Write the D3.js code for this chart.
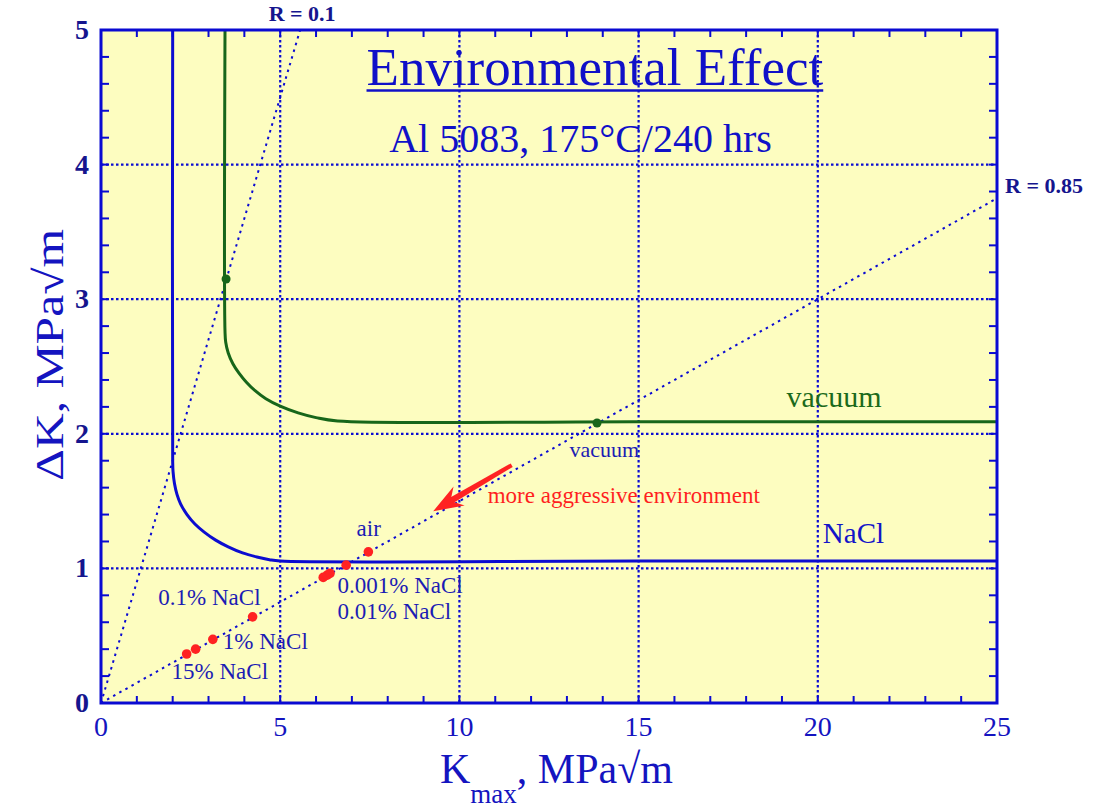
<!DOCTYPE html>
<html>
<head>
<meta charset="utf-8">
<script src="https://cdn.jsdelivr.net/npm/d3@7"></script>
<style>
  html, body { margin: 0; padding: 0; background: #ffffff; }
  svg { display: block; }
  text { font-family: "Liberation Serif", "Times New Roman", serif; }
</style>
</head>
<body>
<svg id="chart" width="1094" height="811"></svg>
<script>
// ---- data ----------------------------------------------------------------
// Threshold curve in 3.5% NaCl (Kmax, ΔK)
const naclK  = [2.0, 2.0, 2.01, 2.05, 2.12, 2.22, 2.4, 2.62, 2.88, 3.2, 3.55, 3.95, 4.35, 4.7, 5.0, 15, 25];
const naclDK = [5.0, 1.80, 1.72, 1.63, 1.55, 1.48, 1.40, 1.33, 1.27, 1.21, 1.16, 1.115, 1.085, 1.065, 1.055, 1.055, 1.055];

// Threshold curve in vacuum (Kmax, ΔK)
const vacK  = [3.46, 3.46, 3.48, 3.55, 3.68, 3.85, 4.05, 4.3, 4.6, 5.0, 5.5, 6.0, 6.6, 15, 25];
const vacDK = [5.0, 2.76, 2.68, 2.60, 2.52, 2.45, 2.385, 2.32, 2.26, 2.205, 2.155, 2.12, 2.095, 2.09, 2.09];

// Measured thresholds for each environment (red points)
const envKmax = [2.39, 2.64, 3.12, 4.23, 6.20, 6.31, 6.39, 6.84, 7.46];
const envDK   = [0.364, 0.40, 0.473, 0.64, 0.933, 0.950, 0.963, 1.024, 1.123];

// Curve corner points (green)
const cornerK  = [3.49, 13.84];
const cornerDK = [3.15, 2.08];

// Constant-R load lines: ΔK = (1 - R) Kmax
const loadRatios = [0.1, 0.85];
const loadLabels = ["R = 0.1", "R = 0.85"];

// Axis ticks
const xTicks = [0, 5, 10, 15, 20, 25];
const yTicks = [0, 1, 2, 3, 4, 5];

// Annotations (data coordinates of text start / baseline)
const notes = [
  { text: "air",          k: 7.13,  dk: 1.24,  size: 23, color: "#1c1cb4" },
  { text: "0.001% NaCl",  k: 6.60,  dk: 0.819, size: 23, color: "#1c1cb4" },
  { text: "0.01% NaCl",   k: 6.60,  dk: 0.621, size: 23, color: "#1c1cb4" },
  { text: "0.1% NaCl",    k: 1.60,  dk: 0.728, size: 23, color: "#1c1cb4" },
  { text: "1% NaCl",      k: 3.40,  dk: 0.399, size: 23, color: "#1c1cb4" },
  { text: "15% NaCl",     k: 1.97,  dk: 0.178, size: 23, color: "#1c1cb4" },
  { text: "vacuum",       k: 13.07, dk: 1.83,  size: 22, color: "#1c1cb4" },
  { text: "vacuum",       k: 19.13, dk: 2.20,  size: 30, color: "#1b6a1b" },
  { text: "NaCl",         k: 20.14, dk: 1.186, size: 29, color: "#1414c8" },
  { text: "more aggressive environment", k: 10.79, dk: 1.485, size: 23, color: "#ff1f1f" }
];

// Arrow from vacuum toward harsher environments
const arrowFrom = { k: 11.46, dk: 1.767 };
const arrowTo   = { k: 9.27,  dk: 1.425 };

// ---- layout ----------------------------------------------------------------
const svg = d3.select("#chart");
const pLeft = 101, pRight = 997, pTop = 30, pBottom = 703;

const x = d3.scaleLinear().domain([0, 25]).range([pLeft, pRight]);
const y = d3.scaleLinear().domain([0, 5]).range([pBottom, pTop]);

const BLUE = "#0a0ad2";
const TEXT_BLUE = "#1414c0";
const NAVY = "#15158e";
const GREEN = "#17661a";
const RED = "#ff2222";

// plot background
svg.append("rect")
  .attr("x", pLeft).attr("y", pTop)
  .attr("width", pRight - pLeft).attr("height", pBottom - pTop)
  .attr("fill", "#fdfdc0");

// clip region for data
svg.append("clipPath").attr("id", "plotClip")
  .append("rect").attr("x", pLeft).attr("y", pTop - 2)
  .attr("width", pRight - pLeft).attr("height", pBottom - pTop + 2);

// ---- grid ----
const grid = svg.append("g");
grid.selectAll("line.gx").data(xTicks.filter(d => d > 0 && d < 25)).join("line")
  .attr("x1", d => x(d)).attr("x2", d => x(d))
  .attr("y1", pTop).attr("y2", pBottom)
  .attr("stroke", BLUE).attr("stroke-width", 2.2)
  .attr("stroke-dasharray", "2.5,2.5");
grid.selectAll("line.gy").data(yTicks.filter(d => d > 0 && d < 5)).join("line")
  .attr("x1", pLeft).attr("x2", pRight)
  .attr("y1", d => y(d)).attr("y2", d => y(d))
  .attr("stroke", BLUE).attr("stroke-width", 2.2)
  .attr("stroke-dasharray", "2.5,2.5");

// ---- constant-R load lines ----
const plot = svg.append("g").attr("clip-path", "url(#plotClip)");
loadRatios.forEach((R, i) => {
  const slope = 1 - R;
  const kEnd = Math.min(25, 5 / slope);
  const dkEnd = slope * kEnd;
  plot.append("line")
    .attr("x1", x(0)).attr("y1", y(0))
    .attr("x2", x(kEnd)).attr("y2", y(dkEnd))
    .attr("stroke", BLUE).attr("stroke-width", 2)
    .attr("stroke-dasharray", "2.5,4.5");
  const lbl = svg.append("text")
    .attr("fill", NAVY).attr("font-weight", "bold").attr("font-size", 22)
    .text(loadLabels[i]);
  if (kEnd < 25) {
    lbl.attr("x", x(kEnd) + 2).attr("y", y(dkEnd) - 9).attr("text-anchor", "middle");
  } else {
    lbl.attr("x", x(kEnd) + 8).attr("y", y(dkEnd) - 5).attr("text-anchor", "start");
  }
});

// ---- threshold curves ----
const line = d3.line().x(d => x(d[0])).y(d => y(d[1])).curve(d3.curveCatmullRom.alpha(0.5));
plot.append("path")
  .datum(naclK.map((k, i) => [k, naclDK[i]]))
  .attr("d", line).attr("fill", "none")
  .attr("stroke", "#0c0cd0").attr("stroke-width", 3);
plot.append("path")
  .datum(vacK.map((k, i) => [k, vacDK[i]]))
  .attr("d", line).attr("fill", "none")
  .attr("stroke", GREEN).attr("stroke-width", 3);

// corner points
plot.selectAll("circle.corner").data(cornerK.map((k, i) => [k, cornerDK[i]])).join("circle")
  .attr("cx", d => x(d[0])).attr("cy", d => y(d[1])).attr("r", 4.5)
  .attr("fill", GREEN);

// environment points
plot.selectAll("circle.env").data(envKmax.map((k, i) => [k, envDK[i]])).join("circle")
  .attr("cx", d => x(d[0])).attr("cy", d => y(d[1])).attr("r", 4.8)
  .attr("fill", RED);

// ---- arrow ----
{
  const x1 = x(arrowFrom.k), y1 = y(arrowFrom.dk);
  const x2 = x(arrowTo.k), y2 = y(arrowTo.dk);
  const ang = Math.atan2(y2 - y1, x2 - x1);
  const len = Math.hypot(x2 - x1, y2 - y1);
  const g = svg.append("g")
    .attr("transform", `translate(${x1},${y1}) rotate(${ang * 180 / Math.PI})`);
  // tapered shaft
  g.append("path")
    .attr("d", `M0,-2 L${len - 18},-3.2 L${len - 18},3.2 L0,2 Z`)
    .attr("fill", RED);
  // head
  g.append("path")
    .attr("d", `M${len},0 L${len - 30},-11 L${len - 20},0 L${len - 30},11 Z`)
    .attr("fill", RED);
}

// ---- annotations ----
svg.selectAll("text.note").data(notes).join("text")
  .attr("class", "note")
  .attr("x", d => x(d.k)).attr("y", d => y(d.dk))
  .attr("font-size", d => d.size)
  .attr("fill", d => d.color)
  .text(d => d.text);

// title and subtitle
const title = svg.append("text")
  .attr("x", x(13.78)).attr("y", y(4.588))
  .attr("text-anchor", "middle").attr("font-size", 53)
  .attr("fill", "#1010c8")
  .text("Environmental Effect");
{
  const w = title.node().getComputedTextLength();
  svg.append("line")
    .attr("x1", x(13.78) - w / 2).attr("x2", x(13.78) + w / 2)
    .attr("y1", y(4.588) + 5).attr("y2", y(4.588) + 5)
    .attr("stroke", "#1010c8").attr("stroke-width", 2.5);
}
svg.append("text")
  .attr("x", x(13.38)).attr("y", y(4.093))
  .attr("text-anchor", "middle").attr("font-size", 40)
  .attr("fill", "#1010c8")
  .text("Al 5083, 175°C/240 hrs");

// ---- axes frame and ticks ----
const axes = svg.append("g");
// inward ticks on all four sides
const xMinor = d3.range(0, 26, 1);
const yMinor = d3.range(0, 5.0001, 0.2);
axes.selectAll("line.tb").data(xMinor).join("line")
  .attr("x1", d => x(d)).attr("x2", d => x(d))
  .attr("y1", pBottom).attr("y2", pBottom - 7)
  .attr("stroke", BLUE).attr("stroke-width", 2);
axes.selectAll("line.tt").data(xMinor).join("line")
  .attr("x1", d => x(d)).attr("x2", d => x(d))
  .attr("y1", pTop).attr("y2", pTop + 7)
  .attr("stroke", BLUE).attr("stroke-width", 2);
axes.selectAll("line.tl").data(yMinor).join("line")
  .attr("x1", pLeft).attr("x2", pLeft + 8)
  .attr("y1", d => y(d)).attr("y2", d => y(d))
  .attr("stroke", BLUE).attr("stroke-width", 2);
axes.selectAll("line.tr").data(yMinor).join("line")
  .attr("x1", pRight).attr("x2", pRight - 8)
  .attr("y1", d => y(d)).attr("y2", d => y(d))
  .attr("stroke", BLUE).attr("stroke-width", 2);

axes.append("rect")
  .attr("x", pLeft).attr("y", pTop)
  .attr("width", pRight - pLeft).attr("height", pBottom - pTop)
  .attr("fill", "none").attr("stroke", BLUE).attr("stroke-width", 3);

// tick labels
axes.selectAll("text.xl").data(xTicks).join("text")
  .attr("x", d => x(d)).attr("y", pBottom + 33)
  .attr("text-anchor", "middle").attr("font-size", 28)
  .attr("fill", TEXT_BLUE)
  .text(d => d);
axes.selectAll("text.yl").data(yTicks).join("text")
  .attr("x", pLeft - 12).attr("y", d => y(d) + 9)
  .attr("text-anchor", "end").attr("font-size", 28).attr("font-weight", "bold")
  .attr("fill", NAVY)
  .text(d => d);

// axis titles
const xt = svg.append("text")
  .attr("x", 440).attr("y", 783)
  .attr("font-size", 42).attr("fill", TEXT_BLUE);
xt.append("tspan").text("K");
xt.append("tspan").attr("font-size", 27).attr("dy", 20).text("max");
xt.append("tspan").attr("dy", -20).text(", MPa√m");

svg.append("text")
  .attr("transform", "translate(63,355) rotate(-90)")
  .attr("text-anchor", "middle")
  .attr("font-size", 41).attr("fill", TEXT_BLUE)
  .attr("textLength", 252).attr("lengthAdjust", "spacingAndGlyphs")
  .text("ΔK, MPa√m");
</script>
</body>
</html>
